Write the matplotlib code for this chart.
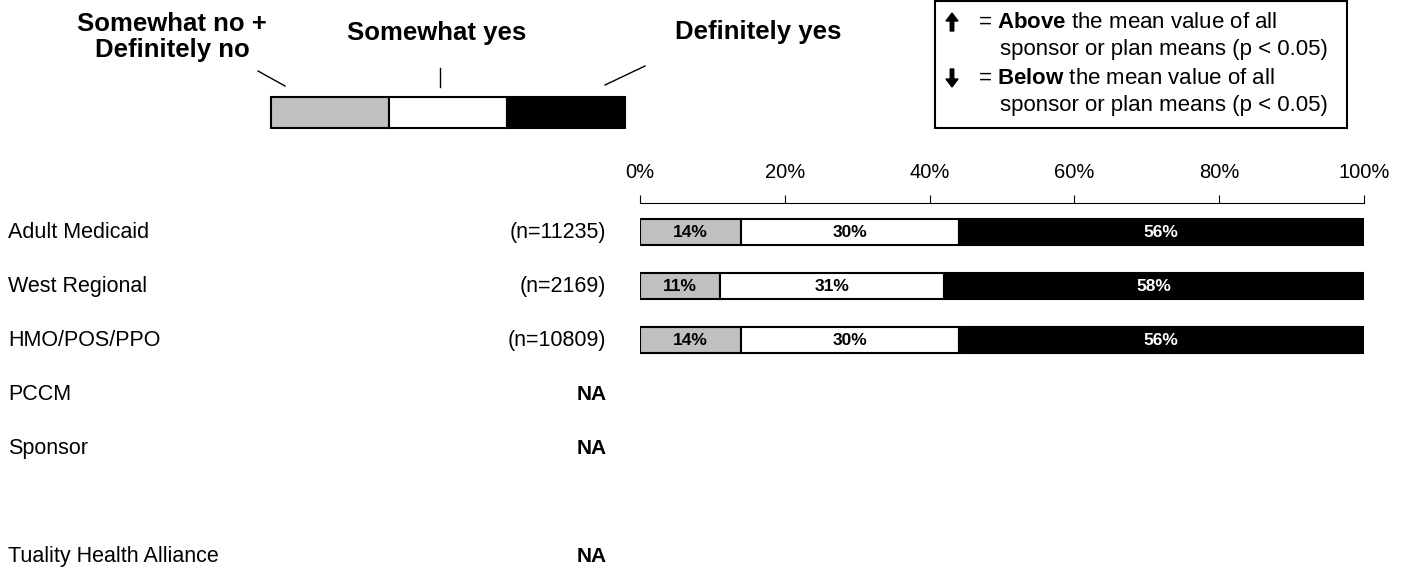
import matplotlib
matplotlib.use("Agg")
import matplotlib.pyplot as plt
import matplotlib.transforms as mtransforms
from matplotlib.lines import Line2D
from matplotlib.patches import Rectangle, FancyArrow

plt.rcParams['font.family'] = ['Liberation Sans', 'DejaVu Sans']
plt.rcParams['mathtext.fontset'] = 'custom'
plt.rcParams['mathtext.rm'] = 'Liberation Sans'
plt.rcParams['mathtext.bf'] = 'Liberation Sans:bold'

# ---------------- data ----------------
row_labels = ["Adult Medicaid", "West Regional", "HMO/POS/PPO", "PCCM", "Sponsor", "Tuality Health Alliance"]
row_pos = [0, 1, 2, 3, 4, 6]
n_labels = ["(n=11235)", "(n=2169)", "(n=10809)", None, None, None]
no_vals = [14, 11, 14, None, None, None]
somewhat_vals = [30, 31, 30, None, None, None]
definitely_vals = [56, 58, 56, None, None, None]
series_names = ["Somewhat no +\nDefinitely no", "Somewhat yes", "Definitely yes"]
series_colors = ["#c0c0c0", "#ffffff", "#000000"]
text_colors = ["black", "black", "white"]
xticks = [0, 20, 40, 60, 80, 100]
xtick_labels = ["0%", "20%", "40%", "60%", "80%", "100%"]

W, H = 1410, 569
fig = plt.figure(figsize=(W / 100, H / 100), dpi=100)

def fx(px):
    return px / W

def fy(py):
    return 1 - py / H

pix = mtransforms.Affine2D().scale(1, -1).translate(0, H)  # pixel coords, y down

# ---------------- main axes ----------------
ax = fig.add_axes([fx(640), fy(569), fx(1364) - fx(640), fy(203) - fy(569)])
ax.set_xlim(0, 100)
ax.set_ylim(6.24, -0.537)
for s in ["left", "right", "bottom"]:
    ax.spines[s].set_visible(False)
ax.spines["top"].set_linewidth(0.8)
ax.xaxis.tick_top()
ax.set_xticks(xticks)
ax.set_xticklabels(xtick_labels, fontsize=14.5)
ax.tick_params(axis="x", direction="out", length=6, width=0.8, pad=9, colors="black")
ax.set_yticks([])

bar_h = 0.47
series = [no_vals, somewhat_vals, definitely_vals]
for pos, *vals in zip(row_pos, *series):
    if vals[0] is None:
        continue
    left = 0
    for v, c, tc in zip(vals, series_colors, text_colors):
        ax.barh(pos, v, left=left, height=bar_h, color=c, edgecolor="black", linewidth=1.5)
        ax.text(left + v / 2, pos, f"{v}%", ha="center", va="center",
                fontsize=12.5, fontweight="bold", color=tc)
        left += v

# row labels
tr = mtransforms.blended_transform_factory(fig.transFigure, ax.transData)
for pos, lab, nl, nv in zip(row_pos, row_labels, n_labels, no_vals):
    ax.text(fx(8), pos, lab, transform=tr, ha="left", va="center", fontsize=15.5, clip_on=False)
    if nl is not None:
        ax.text(fx(606), pos, nl, transform=tr, ha="right", va="center", fontsize=15.5, clip_on=False)
    if nv is None:
        ax.text(fx(607), pos, "NA", transform=tr, ha="right", va="center", fontsize=15,
                fontweight="bold", clip_on=False)

# ---------------- key bar (top-left) ----------------
kax = fig.add_axes([fx(271), fy(128), fx(625) - fx(271), fy(97) - fy(128)])
kax.set_xlim(0, 3)
kax.set_ylim(-0.5, 0.5)
kax.axis("off")
for i, c in enumerate(series_colors):
    kax.barh(0, 1, left=i, height=1, color=c, edgecolor="black", linewidth=1.5, clip_on=False)

key_text_pos = [(172, 37), (437, 33), (758, 32)]
for name, (x, y) in zip(series_names, key_text_pos):
    fig.text(fx(x), fy(y), name, ha="center", va="center", fontsize=18.5, fontweight="bold",
             linespacing=1.1)

leader_lines = [((258, 71), (285, 86)), ((440, 68), (440, 87)), ((605, 85), (645, 66))]
for (x0, y0), (x1, y1) in leader_lines:
    fig.add_artist(Line2D([x0, x1], [y0, y1], color="black", linewidth=1.0, transform=pix))

# ---------------- significance legend box ----------------
fig.add_artist(Rectangle((935, 1), 1347 - 935, 127, transform=pix,
                         facecolor="white", edgecolor="black", linewidth=1.5))
# up arrow
fig.add_artist(FancyArrow(952, 31, 0, -18, width=3.5, head_width=12, head_length=8,
                          length_includes_head=True, color="black", transform=pix))
# down arrow
fig.add_artist(FancyArrow(952, 69, 0, 18, width=3.5, head_width=12, head_length=8,
                          length_includes_head=True, color="black", transform=pix))
legend_lines = [
    (978, 22, r"= $\mathbf{Above}$ the mean value of all"),
    (1000, 50, "sponsor or plan means (p < 0.05)"),
    (978, 78, r"= $\mathbf{Below}$ the mean value of all"),
    (1000, 106, "sponsor or plan means (p < 0.05)"),
]
for x, y, t in legend_lines:
    fig.text(fx(x), fy(y), t, ha="left", va="center", fontsize=16)

fig.savefig("out.png", dpi=100, facecolor="white")
